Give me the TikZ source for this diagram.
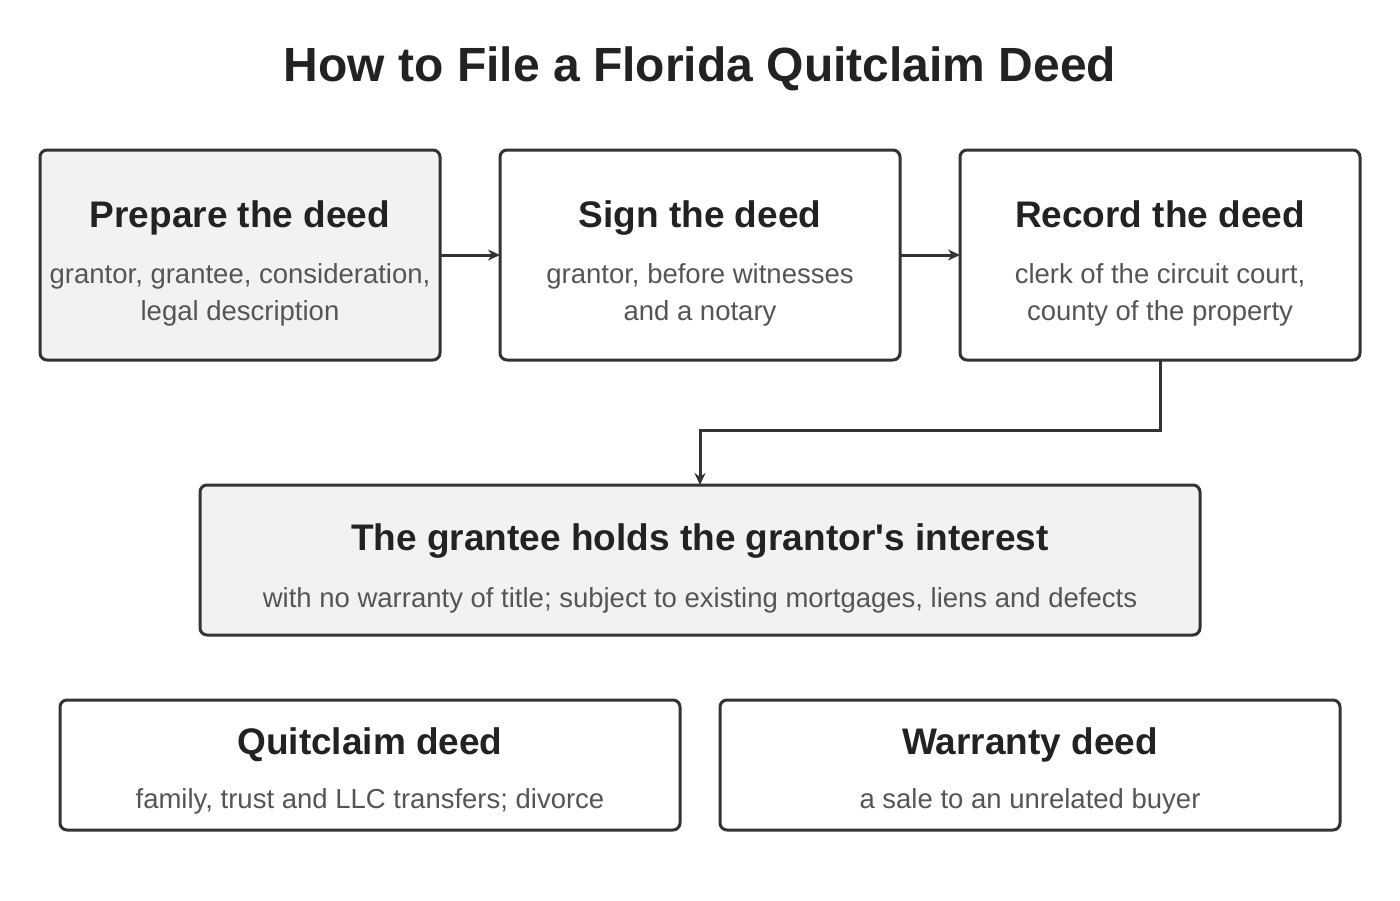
\documentclass[tikz,border=0pt]{standalone}
\usepackage{fontspec}
\setmainfont{Liberation Sans}
\usetikzlibrary{arrows.meta}
\definecolor{bd}{HTML}{333333}
\definecolor{hd}{HTML}{222222}
\definecolor{sb}{HTML}{555555}
\definecolor{gf}{HTML}{F2F2F2}
\begin{document}
\begin{tikzpicture}[x=1pt,y=-1pt,
  box/.style={draw=bd,line width=3pt,rounded corners=7pt,fill=white},
  gbox/.style={box,fill=gf},
  hdt/.style={font=\fontsize{37}{44}\selectfont\bfseries,text=hd,inner sep=0,anchor=base},
  sbt/.style={font=\fontsize{27.5}{37}\selectfont,text=sb,align=center,inner sep=0,anchor=base},
  arr/.style={draw=bd,line width=3pt,-{Stealth[length=12pt,width=11pt]}}]
\useasboundingbox (0,0) rectangle (1400,900);
\node[font=\fontsize{48}{56}\selectfont\bfseries,text=hd,anchor=base] (title) at (700,81) {How to File a Florida Quitclaim Deed};
\draw[gbox] (40,150) rectangle (440,360); \coordinate (b1r) at (440,255);
\draw[box] (500,150) rectangle (900,360); \coordinate (b2l) at (500,255); \coordinate (b2r) at (900,255);
\draw[box] (960,150) rectangle (1360,360); \coordinate (b3l) at (960,255); \coordinate (b3b) at (1160,360);
\draw[gbox] (200,485) rectangle (1200,635); \coordinate (b4t) at (700,485);
\draw[box] (60,700) rectangle (680,830);
\draw[box] (720,700) rectangle (1340,830);
\node[hdt] (h1) at (240,227) {Prepare the deed};
\node[sbt] (s1) at (240,320) {grantor, grantee, consideration,\\legal description};
\node[hdt] (h2) at (700,227) {Sign the deed};
\node[sbt] (s2) at (700,320) {grantor, before witnesses\\and a notary};
\node[hdt] (h3) at (1160,227) {Record the deed};
\node[sbt] (s3) at (1160,320) {clerk of the circuit court,\\county of the property};
\node[hdt] (h4) at (700,550) {The grantee holds the grantor\textquotesingle s interest};
\node[sbt] (s4) at (700,607) {with no warranty of title; subject to existing mortgages, liens and defects};
\node[hdt] (h5) at (370,754) {Quitclaim deed};
\node[sbt] (s5) at (370,808) {family, trust and LLC transfers; divorce};
\node[hdt] (h6) at (1030,754) {Warranty deed};
\node[sbt] (s6) at (1030,808) {a sale to an unrelated buyer};
\draw[arr] (b1r) -- (b2l);
\draw[arr] (b2r) -- (b3l);
\draw[arr] (b3b) -- (1160,430) -- (700,430) -- (b4t);
\end{tikzpicture}
\end{document}
